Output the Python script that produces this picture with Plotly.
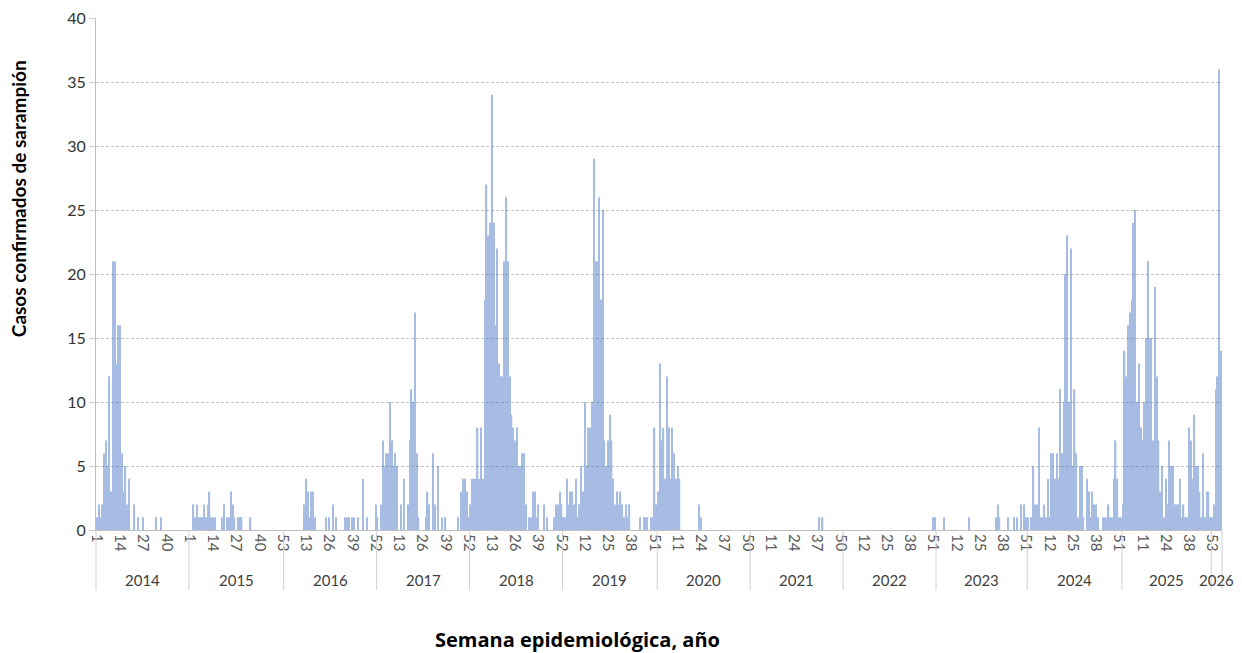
import plotly.graph_objects as go

# ---------------- data ----------------
years = ["2014", "2015", "2016", "2017", "2018", "2019", "2020",
         "2021", "2022", "2023", "2024", "2025", "2026"]

cases_2014 = [1,2,1,2,6,7,5,12,3,21, 21,13,16,16,6,3,5,2,4,0, 0,2,0,1,0,0,1,0,0,0,
              0,0,0,1,0,0,1,0,0,0, 0,0,0,0,0,0,0,0,0,0, 0,0]
cases_2015 = [0,0,2,1,2,1,1,1,2,1, 2,3,1,1,1,0,0,0,1,2, 0,1,1,3,2,1,0,1,1,1,
              0,0,0,0,1,0,0,0,0,0, 0,0,0,0,0,0,0,0,0,0, 0,0,0]
cases_2016 = [0,0,0,0,0,0,0,0,0,0, 0,2,4,3,1,3,3,1,0,0, 0,0,0,1,0,1,0,2,0,1,
              0,0,0,0,1,1,1,0,1,1, 0,1,0,0,4,0,1,0,0,0, 0,2]
cases_2017 = [1,0,2,7,5,6,6,10,7,5, 6,5,0,2,0,4,0,2,7,11, 10,17,6,1,0,0,0,1,3,2,
              0,6,2,0,5,0,1,0,1,0, 0,0,0,0,0,1,0,3,4,4, 3,1]
cases_2018 = [2,4,4,4,8,4,8,4,18,27, 23,24,34,24,16,22,13,12,12,21, 26,21,12,9,8,7,8,5,5,6,
              6,2,0,1,1,3,3,1,2,0, 0,2,0,1,0,0,0,1,2,2, 3,2]
cases_2019 = [1,1,4,2,3,3,2,4,1,2, 5,3,10,5,8,8,10,29,21,21, 26,18,25,7,5,7,9,7,4,2,
              3,2,3,2,1,2,1,2,0,0, 0,0,0,1,0,1,1,1,0,1, 1,8,2]
cases_2020 = [3,13,7,8,4,12,8,4,8,6, 4,5,4,0,0,0,0,0,0,0, 0,0,0,2,1,0,0,0,0,0,
              0,0,0,0,0,0,0,0,0,0, 0,0,0,0,0,0,0,0,0,0, 0,0]
cases_2021 = [0,0,0,0,0,0,0,0,0,0, 0,0,0,0,0,0,0,0,0,0, 0,0,0,0,0,0,0,0,0,0,
              0,0,0,0,0,0,0,0,1,0, 1,0,0,0,0,0,0,0,0,0, 0,0]
cases_2022 = [0,0,0,0,0,0,0,0,0,0, 0,0,0,0,0,0,0,0,0,0, 0,0,0,0,0,0,0,0,0,0,
              0,0,0,0,0,0,0,0,0,0, 0,0,0,0,0,0,0,0,0,0, 1,1]
cases_2023 = [0,0,0,0,1,0,0,0,0,0, 0,0,0,0,0,0,0,0,1,0, 0,0,0,0,0,0,0,0,0,0,
              0,0,0,1,2,1,0,0,0,0, 1,0,0,1,0,1,0,2,0,2, 1]
cases_2024 = [1,0,1,5,2,2,8,1,1,2, 1,4,1,6,6,4,6,4,11,6, 10,20,23,10,22,5,11,6,1,5,
              5,1,0,4,3,1,3,2,2,1, 0,0,1,1,1,2,1,1,4,7, 4,1,1]
cases_2025 = [2,14,12,16,17,18,24,25,10,13, 8,7,10,15,21,15,15,7,19,12, 7,3,5,1,4,2,7,5,5,2,
              2,2,4,1,2,1,1,8,7,4, 9,5,5,3,1,6,1,3,3,1]
cases_2026 = [1,2,11,12,36,14]

cases_by_year = [cases_2014, cases_2015, cases_2016, cases_2017, cases_2018, cases_2019,
                 cases_2020, cases_2021, cases_2022, cases_2023, cases_2024, cases_2025,
                 cases_2026]

week_tick_labels = ["1","14","27","40",
                    "1","14","27","40","53",
                    "13","26","39","52",
                    "13","26","39","52",
                    "13","26","39","52",
                    "12","25","38","51",
                    "11","24","37","50",
                    "11","24","37","50",
                    "12","25","38","51",
                    "12","25","38","51",
                    "12","25","38","51",
                    "11","24","38","53"]
tick_step = 13

y_ticks = [0, 5, 10, 15, 20, 25, 30, 35, 40]

# ---------------- build ----------------
values = []
year_starts = []
for yv in cases_by_year:
    year_starts.append(len(values))
    values.extend(yv)
n = len(values)
x_idx = list(range(n))
year_ends = year_starts[1:] + [n]

fig = go.Figure()
fig.add_trace(go.Bar(
    x=x_idx, y=values,
    marker=dict(color="#4472C4", line=dict(width=0)),
    opacity=0.47,
    hoverinfo="y",
))

AXIS_GRAY = "#bfbfbf"
FONT = "Lato"
annotations = []
shapes = []
sep_bottom = -0.117
for yr, s, e in zip(years, year_starts, year_ends):
    annotations.append(dict(
        x=(s + e - 1) / 2, xref="x", y=-0.098, yref="paper",
        text=yr, showarrow=False, xanchor="center", yanchor="middle",
        font=dict(size=15, color="#404040", family=FONT)))
for b in year_starts + [n]:
    xp = b / n
    shapes.append(dict(type="line", xref="paper", yref="paper",
                       x0=xp, x1=xp, y0=0, y1=sep_bottom,
                       line=dict(color="#d0d0d0", width=1)))

annotations.append(dict(
    x=0.428, xref="paper", y=-0.213, yref="paper",
    text="<b>Semana epidemiológica, año</b>", showarrow=False,
    xanchor="center", yanchor="middle",
    font=dict(size=20, color="#000000", family="Open Sans")))
annotations.append(dict(
    x=-0.0693, xref="paper", y=0.648, yref="paper",
    text="<b>Casos confirmados de sarampión</b>", showarrow=False, textangle=-90,
    xanchor="center", yanchor="middle",
    font=dict(size=19, color="#000000", family=FONT)))

# the page body has an 8px margin: shrink the figure so the plot lands where the reference has it
fig.update_layout(
    width=1234, height=645,
    margin=dict(l=88, r=20, t=10, b=123, autoexpand=False),
    plot_bgcolor="white", paper_bgcolor="white",
    bargap=0.25,
    showlegend=False,
    annotations=annotations,
    shapes=shapes,
    font=dict(family=FONT, color="#404040"),
)
fig.update_xaxes(
    range=[-0.5, n - 0.5],
    tickmode="array",
    tickvals=[i * tick_step for i in range(len(week_tick_labels))],
    ticktext=week_tick_labels,
    tickangle=90,
    tickfont=dict(size=15, color="#595959", family=FONT),
    ticks="", showgrid=False, zeroline=False,
    showline=True, linecolor=AXIS_GRAY, linewidth=1,
    automargin=False,
)
fig.update_yaxes(
    range=[0, 40],
    tickmode="array", tickvals=y_ticks,
    tickfont=dict(size=16, color="#333333", family=FONT),
    ticklabeloverflow="allow",
    showgrid=True, gridcolor="#c4c4c4", griddash="3px,2px", gridwidth=1,
    ticks="outside", ticklen=6, tickcolor="#d0d0d0",
    showline=True, linecolor=AXIS_GRAY, linewidth=1,
    zeroline=False, automargin=False,
)

fig.write_html("out.html")
